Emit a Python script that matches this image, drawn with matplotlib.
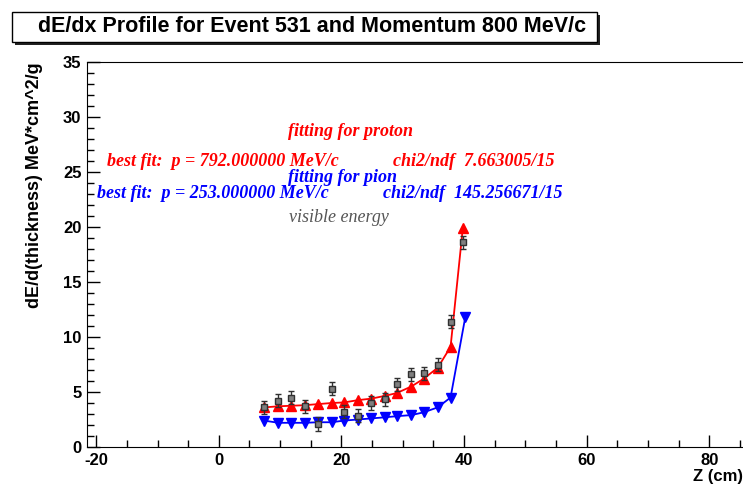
import matplotlib.pyplot as plt
from matplotlib.patches import Rectangle
from matplotlib.ticker import MultipleLocator

plt.rcParams["axes.unicode_minus"] = False

# sampled z positions (cm)
z = [7.4, 9.7, 11.8, 14.0, 16.2, 18.4, 20.4, 22.7, 24.9, 27.1, 29.0, 31.4, 33.4, 35.7, 37.8, 39.8]
z_pion = [7.4, 9.7, 11.8, 14.0, 16.2, 18.4, 20.4, 22.7, 24.9, 27.1, 29.0, 31.4, 33.4, 35.7, 37.8, 40.2]

# proton fit (red), pion fit (blue)
de_proton = [3.6, 3.7, 3.75, 3.8, 3.9, 4.0, 4.05, 4.26, 4.4, 4.65, 4.9, 5.5, 6.2, 7.2, 9.1, 19.9]
de_pion = [2.4, 2.2, 2.2, 2.2, 2.25, 2.25, 2.4, 2.5, 2.6, 2.7, 2.8, 2.9, 3.15, 3.6, 4.5, 11.8]

# visible energy (measured)
de_visible = [3.6, 4.2, 4.5, 3.7, 2.1, 5.3, 3.2, 2.85, 4.0, 4.35, 5.7, 6.6, 6.7, 7.5, 11.4, 18.6]
de_err = [0.6, 0.6, 0.6, 0.6, 0.6, 0.6, 0.6, 0.6, 0.6, 0.6, 0.6, 0.6, 0.6, 0.6, 0.6, 0.6]

W, H = 743, 491
fig = plt.figure(figsize=(W / 100, H / 100), dpi=100)
ax = fig.add_axes([87 / W, 44 / H, (W - 87) / W, 385 / H])

ax.plot(z, de_proton, color="red", lw=1.3, marker="^", ms=7, zorder=3)
ax.plot(z_pion, de_pion, color="blue", lw=1.3, marker="v", ms=7, zorder=3)
ax.errorbar(z, de_visible, yerr=de_err, fmt="s", color="#7f7f7f", mec="#303030",
            ms=5, ecolor="#303030", elinewidth=1, capsize=2, zorder=4)

ax.set_xlim(-21.5, 85.5)
ax.set_ylim(0, 35)
ax.xaxis.set_major_locator(MultipleLocator(20))
ax.xaxis.set_minor_locator(MultipleLocator(5))
ax.yaxis.set_major_locator(MultipleLocator(5))
ax.yaxis.set_minor_locator(MultipleLocator(1))
ax.tick_params(which="both", direction="in", top=False, right=False, width=1)
ax.tick_params(which="major", length=9, labelsize=12, pad=4)
ax.tick_params(which="minor", length=5)
for lab in ax.get_xticklabels() + ax.get_yticklabels():
    lab.set_fontweight("bold")
    lab.set_family("Liberation Sans")
ax.spines["right"].set_visible(False)

ax.set_ylabel("dE/d(thickness) MeV*cm^2/g", fontsize=13, fontweight="bold",
              family="Liberation Sans", loc="top", labelpad=14)
ax.set_xlabel("Z (cm)", fontsize=12, fontweight="bold", family="Liberation Sans",
              loc="right", labelpad=1)

serif = dict(family="Liberation Serif", fontweight="bold", style="italic", fontsize=13,
             transform=fig.transFigure, va="center")
fig.text(351 / W, 1 - 132 / H, "fitting for proton", color="red", ha="center", **serif)
fig.text(107 / W, 1 - 161 / H, "best fit:  p = 792.000000 MeV/c", color="red", ha="left", **serif)
fig.text(393 / W, 1 - 161 / H, "chi2/ndf  7.663005/15", color="red", ha="left", **serif)
fig.text(342 / W, 1 - 177 / H, "fitting for pion", color="blue", ha="center", **serif)
fig.text(97 / W, 1 - 194 / H, "best fit:  p = 253.000000 MeV/c", color="blue", ha="left", **serif)
fig.text(383 / W, 1 - 194 / H, "chi2/ndf  145.256671/15", color="blue", ha="left", **serif)
serif["fontweight"] = "normal"
fig.text(339 / W, 1 - 218 / H, "visible energy", color="#555555", ha="center", **serif)

# title box with shadow
fig.patches.append(Rectangle((15 / W, 1 - 45 / H), 585 / W, 30 / H, transform=fig.transFigure,
                             facecolor="#222222", edgecolor="none"))
fig.patches.append(Rectangle((12 / W, 1 - 42 / H), 585 / W, 30 / H, transform=fig.transFigure,
                             facecolor="white", edgecolor="black", lw=1))
fig.text(312 / W, 1 - 27 / H, "dE/dx Profile for Event 531 and Momentum 800 MeV/c",
         ha="center", va="center", fontsize=15.5, fontweight="bold", family="Liberation Sans")

fig.savefig("out.png", dpi=100)
